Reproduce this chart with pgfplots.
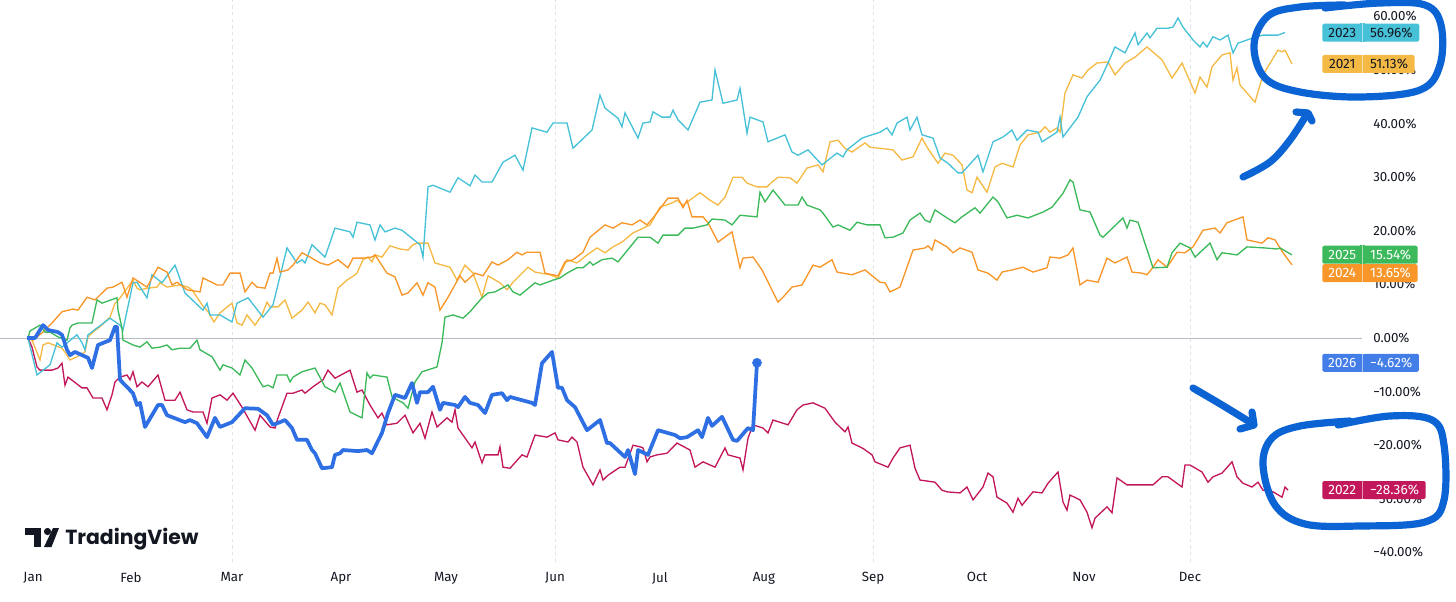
\documentclass[border=0pt]{standalone}
\usepackage{fontspec}
\setmainfont{Fira Sans}
\newfontfamily\logofont{Poppins}
\usepackage{pgfplots}
\pgfplotsset{compat=1.18}
\definecolor{c2021}{HTML}{F5BA45}
\definecolor{c2022}{HTML}{C2185B}
\definecolor{c2023}{HTML}{47C1D8}
\definecolor{c2024}{HTML}{F8962A}
\definecolor{c2025}{HTML}{3CB95A}
\definecolor{c2026}{HTML}{2E6FE4}
\definecolor{pen}{HTML}{0B63D4}
\definecolor{tvtext}{HTML}{131722}
\definecolor{gridc}{HTML}{E0E3EB}
\definecolor{zeroc}{HTML}{B8BBC4}
\newcommand\lblfont{\fontsize{10}{12}\selectfont}
\newcommand\badgefont{\fontsize{10.2}{12}\selectfont}
\newcommand\badge[5]{%
  \node[anchor=west, fill=#2, text=#3, minimum width=30pt, minimum height=13.5pt, inner sep=0pt, font=\badgefont, rounded corners=1.2pt] (ya) at (#1) {#4};
  \node[anchor=west, fill=#2, text=#3, minimum height=13.5pt, inner ysep=0pt, inner xsep=5pt, font=\badgefont, rounded corners=1.2pt] (vb) at ([xshift=0.5pt]ya.east) {#5};
  \fill[#2] ([xshift=-2pt]ya.north east) rectangle ([xshift=2pt]ya.south east);
  \draw[white, opacity=0.55, line width=0.6pt] ([xshift=0.25pt]ya.north east) -- ([xshift=0.25pt]ya.south east);
}
\begin{document}
\begin{tikzpicture}
\useasboundingbox (0,0) rectangle (1092pt,450.75pt);
\begin{axis}[
  at={(0pt,29.25pt)}, anchor=south west,
  scale only axis, width=1021.5pt, height=421.5pt,
  xmin=0, xmax=1362, ymin=-41.79, ymax=63.06,
  clip=false,
  axis line style={draw=none},
  major tick length=0pt,
  ytick={-40,-30,-20,-10,0,10,20,30,40,50,60},
  yticklabels={−40.00\%,−30.00\%,−20.00\%,−10.00\%,0.00\%,10.00\%,20.00\%,30.00\%,40.00\%,50.00\%,60.00\%},
  yticklabel pos=right,
  yticklabel style={anchor=west, inner sep=0pt, xshift=8.25pt, font=\lblfont, text=tvtext},
  xtick={33,131,232,341,446,555,660,764,873,977,1084,1190},
  xticklabels={Jan,Feb,Mar,Apr,May,Jun,Jul,Aug,Sep,Oct,Nov,Dec},
  xticklabel style={anchor=north, inner sep=0pt, yshift=-7.5pt, font=\lblfont, text=tvtext},
  extra x ticks={232,555,873,1190},
  extra x tick labels={},
  extra x tick style={grid=major, major grid style={gridc, line width=0.75pt, dash pattern=on 2.5pt off 2.5pt}},
]
\draw[zeroc, line width=0.75pt] (axis cs:0,0) -- (axis cs:1362,0);
% 2021
\addplot[c2021, line width=1pt] coordinates {(28,0)(32,-0.4)(40,-4.1)(43,-1.3)(48,-0.9)(62,-1.9)(67,-3.2)(70,-4.1)(77,-3.5)(85,-2.6)(88,0.2)(93,1.1)(100,2.1)(110,3.9)(115,6.5)(117,6.7)(133,10.8)(137,9.3)(140,9.0)(148,9.3)(157,9.5)(160,10.3)(167,9.5)(180,9.9)(188,9.5)(192,9.0)(202,6.2)(208,4.9)(214,3.0)(220,4.7)(232,6.5)(237,2.8)(242,2.4)(247,4.3)(255,2.4)(262,4.3)(267,6.7)(270,5.8)(278,5.8)(285,7.1)(292,3.7)(302,5.2)(308,6.7)(315,4.7)(320,6.5)(325,6.2)(332,4.3)(338,9.3)(347,10.8)(352,11.4)(357,12.1)(363,14.6)(368,15.1)(372,14.2)(375,15.5)(382,15.1)(390,17.2)(400,16.6)(408,16.4)(413,17.4)(417,17.7)(428,17.7)(435,14.0)(450,13.2)(457,10.8)(465,13.6)(473,12.1)(482,7.6)(488,11.6)(500,10.3)(507,9.0)(513,10.4)(528,13.2)(535,12.3)(550,11.8)(558,11.2)(567,14.6)(577,14.0)(587,15.5)(597,16.8)(605,15.9)(613,17.0)(622,17.9)(633,19.6)(650,21.1)(660,24.4)(672,25.2)(677,25.7)(683,24.8)(700,27.1)(710,25.7)(718,24.8)(725,26.3)(733,30.0)(742,30.0)(747,28.9)(757,28.2)(767,28.2)(772,29.1)(778,30.0)(790,29.9)(797,28.9)(807,31.7)(818,32.3)(823,31.0)(830,36.6)(838,36.9)(845,35.4)(852,34.7)(865,36.4)(870,35.6)(880,35.4)(893,35.1)(902,33.2)(913,33.8)(922,37.3)(927,35.6)(938,32.6)(945,34.5)(953,34.1)(962,32.3)(967,27.6)(972,27.1)(977,30.0)(987,27.2)(995,31.9)(1002,32.6)(1013,31.9)(1020,36.0)(1028,37.9)(1040,38.4)(1045,39.4)(1050,38.4)(1057,39.2)(1060,38.4)(1065,45.7)(1073,49.1)(1082,48.5)(1088,50.0)(1097,51.3)(1108,51.5)(1115,49.1)(1125,51.3)(1135,52.4)(1147,54.3)(1162,51.9)(1172,48.5)(1182,51.3)(1195,45.7)(1200,48.7)(1207,46.8)(1212,50.6)(1222,52.8)(1230,53.2)(1233,48.1)(1237,50.4)(1240,47.2)(1255,44.0)(1263,49.1)(1278,53.7)(1282,53.4)(1285,53.7)(1292,51.1)};
% 2022
\addplot[c2022, line width=1pt] coordinates {(28,0)(32,-1.7)(37,-5.4)(40,-6.0)(52,-6.0)(58,-5.6)(62,-4.7)(65,-8.8)(68,-7.3)(82,-9.3)(87,-9.3)(93,-11.2)(102,-11.2)(107,-13.4)(112,-10.6)(115,-8.2)(120,-7.3)(127,-6.9)(130,-7.8)(133,-6.3)(137,-9.1)(142,-8.2)(148,-9.1)(158,-6.9)(165,-11.6)(175,-11.6)(180,-10.1)(187,-13.4)(193,-13.8)(203,-13.8)(207,-15.9)(212,-11.2)(220,-10.6)(227,-11.6)(233,-10.3)(242,-12.9)(255,-17.2)(260,-14.4)(270,-16.6)(275,-16.8)(278,-14.9)(287,-10.3)(293,-10.3)(302,-9.7)(305,-10.3)(313,-9.1)(323,-7.8)(328,-6.0)(335,-7.5)(350,-6.0)(357,-10.1)(362,-9.7)(370,-12.5)(378,-14.9)(382,-14.0)(387,-16.2)(397,-15.9)(405,-14.4)(413,-17.7)(420,-15.9)(425,-18.7)(432,-13.8)(437,-16.6)(447,-14.9)(452,-15.7)(455,-13.4)(458,-16.8)(472,-20.5)(475,-19.4)(482,-23.3)(485,-21.8)(498,-21.8)(500,-20.3)(503,-24.1)(510,-24.3)(522,-21.8)(527,-22.2)(535,-18.1)(547,-18.5)(555,-17.7)(558,-19.0)(568,-19.4)(572,-18.5)(577,-19.4)(583,-24.1)(593,-27.4)(600,-24.6)(603,-26.5)(608,-25.6)(620,-24.1)(625,-24.1)(633,-20.0)(640,-20.3)(643,-20.5)(647,-23.1)(650,-22.2)(657,-21.8)(667,-21.5)(677,-19.6)(690,-20.9)(695,-24.1)(703,-23.1)(715,-24.1)(725,-20.5)(728,-21.8)(740,-22.4)(743,-24.6)(748,-18.7)(753,-16.2)(763,-16.8)(768,-17.7)(773,-15.3)(788,-16.2)(797,-13.4)(803,-12.5)(813,-12.1)(825,-13.1)(835,-15.7)(845,-17.5)(848,-16.6)(852,-19.6)(863,-20.6)(872,-21.8)(875,-23.1)(888,-24.1)(893,-22.4)(900,-20.5)(910,-20.0)(915,-24.3)(920,-26.5)(935,-26.9)(942,-28.4)(947,-28.7)(960,-28.9)(967,-27.8)(973,-30.2)(983,-27.8)(988,-25.2)(993,-25.9)(997,-29.7)(1007,-30.8)(1013,-32.5)(1018,-29.9)(1022,-31.2)(1033,-28.7)(1042,-28.9)(1048,-27.1)(1058,-25.0)(1063,-30.6)(1067,-32.1)(1070,-29.3)(1080,-30.2)(1087,-32.5)(1092,-35.4)(1095,-33.6)(1107,-31.5)(1112,-32.6)(1117,-26.1)(1127,-27.4)(1153,-27.4)(1162,-25.9)(1168,-25.9)(1182,-27.8)(1185,-23.7)(1190,-23.7)(1202,-25.0)(1208,-26.9)(1213,-25.9)(1222,-25.2)(1232,-23.1)(1237,-25.9)(1243,-27.1)(1252,-27.8)(1258,-26.9)(1263,-28.4)(1273,-28.7)(1282,-29.7)(1285,-27.8)(1288,-28.4)};
% 2023
\addplot[c2023, line width=1pt] coordinates {(28,0)(37,-6.9)(50,-5.0)(57,-0.9)(62,-1.7)(77,0.6)(82,-0.9)(85,-2.2)(88,0.6)(110,3.7)(120,2.4)(123,1.5)(133,10.3)(137,10.4)(147,7.5)(152,11.8)(162,10.3)(175,13.6)(185,8.4)(203,5.2)(207,6.5)(210,4.3)(220,4.3)(232,3.0)(237,6.5)(248,7.5)(263,3.9)(273,6.2)(287,16.8)(297,14.0)(302,14.6)(305,14.0)(312,17.4)(325,15.1)(335,20.5)(350,19.8)(353,18.8)(357,21.6)(370,21.1)(375,18.3)(380,21.1)(385,19.8)(395,20.5)(402,20.1)(420,17.4)(423,15.1)(428,28.2)(433,28.5)(450,27.2)(458,29.9)(470,28.4)(475,30.4)(482,29.1)(492,29.1)(503,32.8)(515,34.1)(523,31.3)(532,39.2)(547,38.4)(553,40.1)(567,40.1)(573,35.4)(592,38.8)(600,45.3)(605,42.9)(618,41.0)(622,39.4)(625,42.0)(638,37.3)(643,40.1)(650,40.3)(653,42.2)(662,41.2)(670,41.2)(673,42.5)(678,40.7)(688,38.8)(700,44.0)(712,44.4)(715,50.0)(723,43.8)(737,44.4)(740,46.6)(747,38.2)(750,41.2)(763,40.3)(768,36.6)(785,37.9)(792,34.7)(798,34.1)(808,35.1)(822,32.3)(837,34.5)(843,33.8)(847,35.1)(862,37.3)(880,38.4)(887,39.2)(892,37.9)(897,40.1)(907,41.2)(910,38.8)(917,41.2)(922,37.9)(933,37.3)(940,33.6)(948,32.6)(958,30.8)(962,30.8)(978,34.1)(983,31.0)(993,36.6)(1003,37.5)(1012,38.8)(1017,36.9)(1027,38.8)(1038,38.4)(1042,36.6)(1057,38.4)(1060,41.2)(1063,37.5)(1078,41.2)(1087,45.0)(1100,48.1)(1108,51.3)(1115,54.3)(1125,53.2)(1135,56.9)(1138,54.7)(1147,56.9)(1150,56.0)(1157,57.8)(1168,57.8)(1173,58.0)(1178,59.7)(1183,58.0)(1193,55.6)(1200,54.3)(1203,55.2)(1207,54.3)(1213,56.2)(1220,55.6)(1228,56.5)(1233,53.2)(1238,55.0)(1253,56.0)(1263,56.5)(1278,56.5)(1285,57.0)};
% 2024
\addplot[c2024, line width=1pt] coordinates {(28,0)(33,-0.4)(43,1.1)(52,2.8)(62,4.9)(73,5.4)(78,5.2)(87,7.6)(95,7.1)(107,9.3)(113,9.5)(122,10.4)(127,7.6)(133,11.2)(147,9.5)(158,13.2)(167,12.3)(172,9.9)(177,10.4)(187,9.0)(200,8.6)(203,11.2)(217,9.9)(223,9.9)(230,12.1)(240,12.1)(245,8.6)(252,10.4)(257,9.5)(265,9.3)(270,12.1)(273,12.1)(277,14.9)(280,12.3)(288,12.7)(293,13.6)(302,15.9)(310,15.1)(320,14.0)(328,13.6)(338,14.6)(348,13.1)(353,14.9)(363,14.9)(372,15.1)(375,15.5)(387,12.1)(395,11.4)(402,8.0)(408,8.4)(417,10.3)(423,8.0)(428,10.3)(435,9.5)(440,5.2)(448,7.6)(460,11.6)(465,10.4)(475,12.1)(483,11.6)(492,14.2)(498,13.6)(508,14.6)(517,16.0)(522,15.5)(527,16.0)(540,16.0)(545,12.1)(558,11.6)(565,14.2)(573,14.6)(583,16.0)(590,18.8)(605,21.1)(613,20.5)(622,21.5)(632,21.1)(640,22.0)(647,21.1)(653,22.4)(668,26.1)(678,26.1)(683,24.3)(687,25.7)(692,22.6)(703,22.6)(708,21.5)(718,17.9)(732,19.8)(740,13.1)(743,14.9)(753,15.1)(762,12.7)(778,6.7)(783,7.6)(792,9.5)(802,9.9)(813,13.6)(820,13.2)(832,14.6)(837,12.3)(852,11.8)(865,12.7)(880,10.4)(885,10.3)(890,8.6)(900,9.5)(913,16.4)(925,16.8)(928,17.2)(932,16.4)(935,18.3)(947,17.0)(953,15.9)(960,16.8)(972,16.0)(978,12.7)(988,12.1)(997,10.8)(1002,12.3)(1012,12.7)(1023,13.2)(1033,12.3)(1047,13.1)(1050,15.1)(1060,14.9)(1068,15.5)(1073,16.8)(1080,9.9)(1087,10.8)(1098,10.4)(1107,14.9)(1115,14.0)(1127,15.1)(1132,12.3)(1142,12.1)(1147,11.8)(1153,13.2)(1158,14.6)(1167,13.2)(1177,16.0)(1185,15.9)(1193,17.0)(1203,20.1)(1215,20.5)(1220,19.6)(1227,21.5)(1243,22.6)(1247,18.3)(1262,17.7)(1268,18.7)(1275,18.3)(1283,15.9)(1292,13.65)};
% 2025
\addplot[c2025, line width=1pt] coordinates {(28,0)(30,1.3)(40,2.4)(45,1.1)(50,1.1)(58,0.2)(67,-0.4)(70,1.9)(72,2.4)(78,2.8)(92,2.8)(97,7.1)(102,6.5)(117,7.5)(118,5.2)(122,1.9)(123,-0.4)(133,-1.3)(140,-1.7)(147,-0.7)(152,-1.9)(160,-1.7)(167,-1.3)(172,-2.2)(180,-1.9)(190,-1.9)(197,-0.4)(200,-2.2)(212,-3.5)(220,-6.0)(223,-5.0)(232,-5.6)(240,-6.9)(245,-4.1)(252,-5.6)(263,-9.1)(268,-8.8)(273,-9.3)(277,-6.9)(287,-6.9)(290,-8.2)(293,-7.3)(302,-6.3)(315,-5.6)(325,-9.1)(335,-10.1)(340,-8.4)(350,-13.8)(362,-14.9)(367,-6.5)(370,-7.5)(373,-6.9)(387,-7.3)(392,-11.0)(403,-12.1)(408,-13.1)(415,-8.2)(422,-6.3)(437,-5.4)(442,-0.9)(445,3.9)(453,4.3)(463,3.7)(470,4.9)(482,7.5)(488,8.4)(495,8.6)(508,9.9)(513,8.6)(520,8.0)(535,10.3)(540,9.9)(553,10.8)(560,11.2)(567,12.1)(577,13.1)(583,13.1)(590,14.2)(593,13.6)(602,14.6)(612,14.9)(618,14.2)(638,18.8)(650,18.8)(658,17.7)(663,19.2)(678,19.2)(685,20.5)(693,20.5)(707,21.1)(712,22.2)(725,22.0)(732,21.1)(740,22.9)(757,22.6)(760,27.2)(765,25.4)(773,27.6)(785,24.8)(798,24.8)(802,26.3)(807,24.8)(820,23.9)(823,23.3)(833,20.7)(838,21.1)(850,20.1)(857,21.6)(867,21.1)(880,21.1)(885,18.7)(893,18.8)(903,19.6)(910,22.0)(920,23.3)(925,22.0)(930,21.6)(935,23.9)(947,22.4)(955,21.5)(962,22.6)(975,24.3)(980,23.3)(993,26.3)(998,25.4)(1007,22.4)(1017,22.9)(1028,22.4)(1043,23.5)(1052,24.4)(1063,27.0)(1070,29.5)(1073,29.1)(1080,23.9)(1090,23.5)(1100,19.2)(1103,18.8)(1123,22.4)(1127,20.5)(1130,22.0)(1138,21.6)(1153,13.1)(1167,13.2)(1172,15.9)(1180,17.7)(1190,16.8)(1195,15.1)(1210,17.7)(1217,14.6)(1222,15.9)(1237,15.5)(1247,17.0)(1265,16.8)(1277,16.6)(1280,16.8)(1292,15.5)};
% 2026
\addplot[c2026, line width=2.8pt, line join=round] coordinates {(27,0)(35,0)(43,2.4)(48,1.5)(58,1.1)(62,0.6)(67,-2.2)(70,-3.2)(75,-2.6)(88,-3.7)(92,-5.6)(98,-1.3)(110,-0.4)(115,2.1)(117,2.1)(120,-7.8)(133,-10.3)(137,-12.5)(140,-12.1)(145,-16.6)(158,-12.5)(162,-12.5)(167,-14.4)(185,-15.7)(190,-15.3)(197,-15.9)(207,-18.5)(215,-14.9)(220,-16.6)(232,-15.7)(245,-13.1)(258,-13.2)(267,-14.4)(273,-16.2)(280,-15.7)(285,-15.3)(292,-16.8)(297,-19.0)(307,-19.0)(312,-20.9)(315,-21.5)(322,-24.3)(332,-24.1)(335,-21.8)(340,-21.5)(343,-20.9)(358,-21.1)(367,-20.9)(372,-21.5)(382,-17.7)(388,-14.0)(395,-10.6)(405,-11.2)(412,-8.4)(417,-12.1)(420,-10.1)(428,-10.1)(433,-9.1)(440,-13.4)(443,-12.1)(455,-12.5)(458,-12.9)(465,-11.0)(470,-12.1)(478,-12.5)(485,-14.0)(492,-10.6)(502,-10.3)(507,-11.6)(510,-11.0)(532,-12.1)(535,-12.5)(542,-4.7)(552,-2.6)(558,-9.3)(562,-9.3)(567,-11.6)(575,-12.9)(587,-17.2)(600,-15.3)(607,-19.6)(610,-19.6)(625,-22.2)(628,-20.9)(635,-25.4)(638,-20.9)(648,-21.8)(658,-17.2)(675,-18.1)(680,-18.7)(687,-18.5)(698,-17.2)(702,-18.5)(708,-14.9)(712,-16.4)(722,-14.7)(733,-19.0)(737,-19.2)(748,-16.8)(753,-17.2)(757,-4.62)};
\addplot[c2026, only marks, mark=*, mark size=3.4pt] coordinates {(757,-4.62)};
\coordinate (b23) at (axis cs:1322,56.96);
\coordinate (b21) at (axis cs:1322,51.13);
\coordinate (b25) at (axis cs:1322,15.54);
\coordinate (b24) at (axis cs:1322,12.1);
\coordinate (b26) at (axis cs:1322,-4.62);
\coordinate (b22) at (axis cs:1322,-28.36);
\end{axis}
\badge{b23}{c2023}{tvtext}{2023}{56.96\%}
\badge{b21}{c2021}{tvtext}{2021}{51.13\%}
\badge{b25}{c2025}{white}{2025}{15.54\%}
\badge{b24}{c2024}{white}{2024}{13.65\%}
\badge{b26}{c2026!90!white}{white}{2026}{−4.62\%}
\badge{b22}{c2022}{white}{2022}{−28.36\%}
\begin{scope}[x=0.75pt, y=-0.75pt, shift={(0pt,450.75pt)}]
  % TradingView logo
  \fill[tvtext] (25,528) rectangle (41,535);
  \fill[tvtext] (34,528) rectangle (41,547);
  \fill[tvtext] (47.5,531.5) circle (3.6);
  \fill[tvtext] (44,547) -- (51.5,547) -- (59,528) -- (53,528) -- cycle;
  \node[anchor=base west, inner sep=0pt, text=tvtext, font=\logofont\bfseries\fontsize{15.3}{16}\selectfont] at (65,544) {TradingView};
  % pen annotations
  \draw[pen, line width=5.4pt, line cap=round, line join=round] plot[smooth, tension=0.6] coordinates {(1325,8) (1380,3) (1425,5) (1441,25) (1440,65) (1420,90) (1360,97) (1300,92) (1265,78) (1254,45) (1268,16) (1300,7) (1345,5)};
  \draw[pen, line width=5.4pt, line cap=round, line join=round] plot[smooth, tension=0.6] coordinates {(1243,177) (1270,162) (1290,140) (1307,114)};
  \draw[pen, line width=5.4pt, line cap=round, line join=round] (1296,112) -- (1308,113) -- (1312,121);
  \draw[pen, line width=5.4pt, line cap=round, line join=round] plot[smooth, tension=0.6] coordinates {(1193,388) (1222,405) (1253,424)};
  \draw[pen, line width=5.4pt, line cap=round, line join=round] (1240,429) -- (1254,425) -- (1252,412);
  \draw[pen, line width=5.4pt, line cap=round, line join=round] plot[smooth, tension=0.6] coordinates {(1338,425) (1390,416) (1432,420) (1444,445) (1444,500) (1425,522) (1360,526) (1305,524) (1275,505) (1263,465) (1272,438) (1300,426) (1350,421)};
\end{scope}
\end{tikzpicture}
\end{document}
